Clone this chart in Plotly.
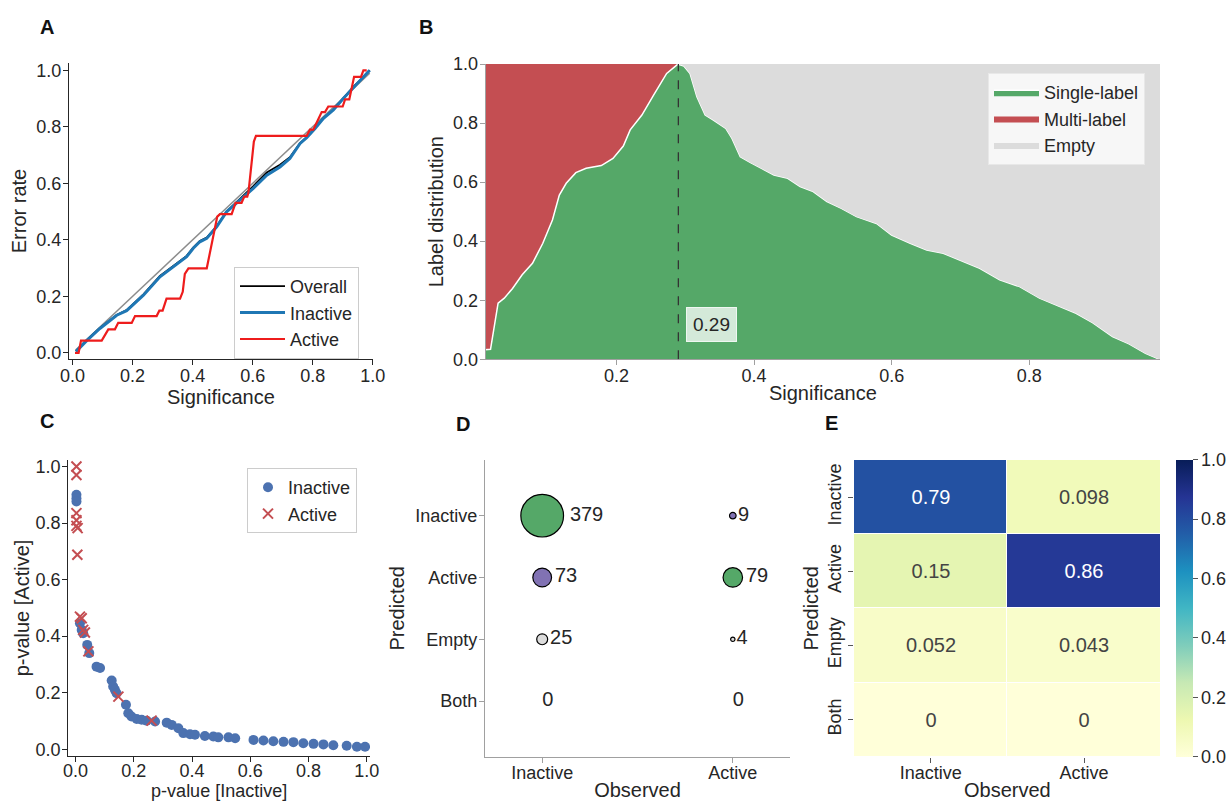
import plotly.graph_objects as go

W, H = 1227, 801
FONT = "Liberation Sans, Arial, sans-serif"
TXT = "#262626"

# ---------------- Panel A data ----------------
a_diag_x = [0.01, 0.99]
a_diag_y = [0.01, 0.99]
a_inactive_x = [0.011, 0.047, 0.091, 0.147, 0.18, 0.236, 0.291, 0.336, 0.38, 0.402, 0.424, 0.447,
                0.48, 0.513, 0.558, 0.602, 0.647, 0.691, 0.724, 0.758, 0.78, 0.808, 0.836, 0.869,
                0.902, 0.936, 0.963, 0.98, 0.99]
a_inactive_y = [0.004, 0.043, 0.086, 0.133, 0.149, 0.204, 0.269, 0.305, 0.34, 0.37, 0.393, 0.405,
                0.446, 0.499, 0.54, 0.582, 0.629, 0.658, 0.688, 0.741, 0.762, 0.794, 0.83, 0.86,
                0.9, 0.94, 0.968, 0.99, 1.0]
a_overall_y = [0.006, 0.045, 0.088, 0.134, 0.151, 0.207, 0.272, 0.309, 0.343, 0.372, 0.396, 0.408,
               0.448, 0.5, 0.544, 0.59, 0.638, 0.666, 0.692, 0.742, 0.763, 0.796, 0.832, 0.861,
               0.902, 0.942, 0.97, 0.99, 1.0]
a_active_x = [0.008, 0.02, 0.028, 0.097, 0.119, 0.141, 0.152, 0.197, 0.208, 0.28, 0.289, 0.3,
              0.313, 0.358, 0.367, 0.374, 0.386, 0.447, 0.482, 0.491, 0.53, 0.543, 0.563, 0.572,
              0.582, 0.586, 0.604, 0.611, 0.78, 0.791, 0.802, 0.83, 0.841, 0.852, 0.9, 0.908,
              0.922, 0.938, 0.961, 0.969, 0.98]
a_active_y = [0.0, 0.0, 0.043, 0.043, 0.083, 0.083, 0.106, 0.106, 0.13, 0.13, 0.149, 0.149,
              0.192, 0.192, 0.216, 0.279, 0.299, 0.299, 0.482, 0.491, 0.491, 0.531, 0.531, 0.553,
              0.553, 0.567, 0.748, 0.768, 0.768, 0.79, 0.79, 0.852, 0.852, 0.872, 0.872, 0.897,
              0.897, 0.977, 0.977, 1.0, 1.0]

# ---------------- Panel B data ----------------
b_sig = [0.008, 0.017, 0.028, 0.037, 0.049, 0.063, 0.078, 0.093, 0.107, 0.117, 0.127, 0.141,
         0.156, 0.178, 0.195, 0.21, 0.22, 0.237, 0.254, 0.273, 0.288, 0.29, 0.298, 0.307, 0.317,
         0.329, 0.341, 0.359, 0.368, 0.38, 0.395, 0.41, 0.429, 0.449, 0.467, 0.486, 0.506,
         0.527, 0.549, 0.578, 0.6, 0.627, 0.651, 0.675, 0.699, 0.728, 0.757, 0.786, 0.815,
         0.844, 0.868, 0.892, 0.921, 0.945, 0.969, 0.986, 0.99]
b_single = [0.032, 0.034, 0.19, 0.207, 0.24, 0.286, 0.325, 0.393, 0.472, 0.556, 0.596, 0.632,
            0.647, 0.656, 0.68, 0.722, 0.777, 0.827, 0.895, 0.968, 0.997, 0.999, 0.993, 0.968,
            0.889, 0.827, 0.81, 0.782, 0.748, 0.686, 0.666, 0.647, 0.624, 0.613, 0.585, 0.568,
            0.534, 0.511, 0.483, 0.46, 0.421, 0.393, 0.37, 0.359, 0.336, 0.308, 0.269, 0.246,
            0.207, 0.178, 0.156, 0.124, 0.077, 0.052, 0.02, 0.003, 0.0]
b_threshold = 0.29
b_multi = [1 - s if x <= b_threshold else 0.0 for x, s in zip(b_sig, b_single)]
b_empty = [1 - s - m for s, m in zip(b_single, b_multi)]

# ---------------- Panel C data ----------------
c_act_x = [0.003, 0.003, 0.003, 0.003, 0.003, 0.007, 0.006, 0.015, 0.021, 0.026, 0.032, 0.044, 0.147, 0.261]
c_act_y = [1.0, 0.97, 0.835, 0.81, 0.79, 0.782, 0.688, 0.469, 0.463, 0.422, 0.413, 0.346, 0.186, 0.101]
c_inact_x = [0.003, 0.003, 0.003, 0.015, 0.021, 0.026, 0.04, 0.047, 0.072, 0.084, 0.124, 0.129,
             0.135, 0.141, 0.173, 0.181, 0.192, 0.21, 0.227, 0.244, 0.273, 0.313, 0.33, 0.353,
             0.37, 0.393, 0.41, 0.444, 0.473, 0.49, 0.525, 0.548, 0.611, 0.645, 0.679, 0.714,
             0.748, 0.782, 0.817, 0.851, 0.885, 0.931, 0.966, 0.994]
c_inact_y = [0.9, 0.888, 0.876, 0.446, 0.422, 0.41, 0.369, 0.34, 0.292, 0.287, 0.243, 0.222,
             0.21, 0.198, 0.157, 0.127, 0.116, 0.107, 0.104, 0.101, 0.098, 0.094, 0.086, 0.074,
             0.057, 0.053, 0.051, 0.047, 0.045, 0.042, 0.042, 0.039, 0.033, 0.031, 0.028, 0.026,
             0.025, 0.021, 0.019, 0.017, 0.014, 0.012, 0.009, 0.009]

# ---------------- Panel D data ----------------
d_observed = ["Inactive", "Inactive", "Inactive", "Inactive", "Active", "Active", "Active", "Active"]
d_predicted = ["Inactive", "Active", "Empty", "Both", "Inactive", "Active", "Empty", "Both"]
d_counts = [379, 73, 25, 0, 9, 79, 4, 0]
d_colors = ["#55a868", "#8172b3", "#dcdcdc", "#c44e52", "#8172b3", "#55a868", "#dcdcdc", "#c44e52"]

# ---------------- Panel E data ----------------
e_observed = ["Inactive", "Active"]
e_predicted = ["Inactive", "Active", "Empty", "Both"]
e_values = [[0.79, 0.098], [0.15, 0.86], [0.052, 0.043], [0, 0]]

ylgnbu = [[0.0, "#ffffd9"], [0.125, "#edf8b1"], [0.25, "#c7e9b4"], [0.375, "#7fcdbb"],
          [0.5, "#41b6c4"], [0.625, "#1d91c0"], [0.75, "#225ea8"], [0.875, "#253494"],
          [1.0, "#081d58"]]


def px(a):
    return a / W


def py(b):
    return 1 - b / H


def hx(a, b):
    return [px(a), px(b)]


def vy(top, bottom):
    return [py(bottom), py(top)]


fig = go.Figure()

# Panel A
fig.add_trace(go.Scatter(x=a_diag_x, y=a_diag_y, mode="lines", line=dict(color="#8c8c8c", width=1.5),
                         showlegend=False, xaxis="x", yaxis="y", hoverinfo="skip"))
fig.add_trace(go.Scatter(x=a_inactive_x, y=a_overall_y, mode="lines", name="Overall",
                         line=dict(color="black", width=1.8), xaxis="x", yaxis="y", legend="legend"))
fig.add_trace(go.Scatter(x=a_inactive_x, y=a_inactive_y, mode="lines", name="Inactive",
                         line=dict(color="#1f77b4", width=3), xaxis="x", yaxis="y", legend="legend"))
fig.add_trace(go.Scatter(x=a_active_x, y=a_active_y, mode="lines", name="Active",
                         line=dict(color="#ee1c1c", width=2.2), xaxis="x", yaxis="y", legend="legend"))

# Panel B
fig.add_trace(go.Scatter(x=b_sig, y=b_single, name="Single-label", stackgroup="b", mode="lines",
                         line=dict(color="white", width=1.5), fillcolor="#55a868",
                         xaxis="x2", yaxis="y2", legend="legend2"))
fig.add_trace(go.Scatter(x=b_sig, y=b_multi, name="Multi-label", stackgroup="b", mode="lines",
                         line=dict(color="#c44e52", width=0), fillcolor="#c44e52",
                         xaxis="x2", yaxis="y2", legend="legend2"))
fig.add_trace(go.Scatter(x=b_sig, y=b_empty, name="Empty", stackgroup="b", mode="lines",
                         line=dict(color="#dcdcdc", width=0), fillcolor="#dcdcdc",
                         xaxis="x2", yaxis="y2", legend="legend2"))

# Panel C
fig.add_trace(go.Scatter(x=c_inact_x, y=c_inact_y, mode="markers", name="Inactive",
                         marker=dict(color="#4c72b0", size=10, line=dict(width=0)),
                         xaxis="x3", yaxis="y3", legend="legend3"))
fig.add_trace(go.Scatter(x=c_act_x, y=c_act_y, mode="markers", name="Active",
                         marker=dict(color="#c44e52", size=10, symbol="x-thin",
                                     line=dict(width=2, color="#c44e52")),
                         xaxis="x3", yaxis="y3", legend="legend3"))

# Panel D
d_max_px = 42.7
fig.add_trace(go.Scatter(x=d_observed, y=d_predicted, mode="markers+text",
                         text=[str(c) for c in d_counts], textposition="middle right",
                         textfont=dict(size=20, color=TXT, family=FONT),
                         marker=dict(size=d_counts, sizemode="area", opacity=1,
                                     sizeref=2 * max(d_counts) / d_max_px ** 2,
                                     color=d_colors, line=dict(color="black", width=1.2)),
                         showlegend=False, cliponaxis=False, xaxis="x4", yaxis="y4"))

# Panel E
fig.add_trace(go.Heatmap(z=e_values, x=e_observed, y=e_predicted, colorscale=ylgnbu, zmin=0, zmax=1,
                         text=[[str(v) for v in row] for row in e_values], texttemplate="%{text}",
                         textfont=dict(size=20, family=FONT), xgap=1, ygap=1,
                         colorbar=dict(thickness=17, len=296.7 / H, lenmode="fraction",
                                       x=px(1176), xanchor="left", y=py(756.7), yanchor="bottom",
                                       xpad=0, ypad=0, outlinewidth=0, ticks="outside", ticklen=5,
                                       tickcolor="#555555", tickvals=[0, 0.2, 0.4, 0.6, 0.8, 1.0],
                                       tickformat=".1f", tickfont=dict(size=18, color=TXT)),
                         xaxis="x5", yaxis="y5"))

base = dict(showgrid=False, zeroline=False, showline=True, ticks="outside", ticklen=5,
            tickwidth=1.2, linewidth=1.2, tickfont=dict(size=18, color=TXT), automargin=False,
            title_font=dict(size=20, color=TXT))
dark = dict(base, linecolor="#262626", tickcolor="#262626")
grey = dict(base, linecolor="#a0a0a0", tickcolor="#a0a0a0")
ticks01 = [0, 0.2, 0.4, 0.6, 0.8, 1.0]
XS = dict(ticklabelstandoff=-5)
YS = dict(ticklabelstandoff=-2)

fig.update_layout(
    width=W, height=H, margin=dict(l=0, r=0, t=0, b=0, autoexpand=False),
    paper_bgcolor="white", plot_bgcolor="white",
    font=dict(family=FONT, color=TXT, size=18),
    xaxis=dict(dark, **XS, domain=hx(69, 372.7), range=[-0.012, 1.0], tickvals=ticks01, tickformat=".1f",
               title=dict(text="Significance", standoff=0), anchor="y"),
    yaxis=dict(dark, **YS, domain=vy(62.7, 359.3), range=[-0.023, 1.027], tickvals=ticks01, tickformat=".1f",
               title=dict(text="Error rate", standoff=4), anchor="x"),
    xaxis2=dict(grey, **XS, domain=hx(485.7, 1160), range=[0.01, 0.99], tickvals=[0.2, 0.4, 0.6, 0.8],
                tickformat=".1f", title=dict(text="Significance", standoff=0), anchor="y2"),
    yaxis2=dict(grey, **YS, domain=vy(64, 359.3), range=[0, 1], tickvals=ticks01, tickformat=".1f",
                title=dict(text="Label distribution", standoff=3), anchor="x2"),
    xaxis3=dict(dark, ticklabelstandoff=-7, domain=hx(68.3, 370), range=[-0.025, 1.011], tickvals=ticks01,
                tickformat=".1f", title=dict(text="p-value [Inactive]", standoff=0, font=dict(size=18)),
                anchor="y3"),
    yaxis3=dict(dark, **YS, domain=vy(460, 756), range=[-0.024, 1.023], tickvals=ticks01, tickformat=".1f",
                title=dict(text="p-value [Active]", standoff=0), anchor="x3"),
    xaxis4=dict(grey, **XS, domain=hx(485, 790), type="category", categoryarray=["Inactive", "Active"],
                range=[-0.3, 1.3], title=dict(text="Observed", standoff=0), anchor="y4"),
    yaxis4=dict(grey, **YS, domain=vy(460, 756.7), type="category",
                categoryarray=["Inactive", "Active", "Empty", "Both"], range=[3.9, -0.9],
                title=dict(text="Predicted", standoff=5), anchor="x4"),
    xaxis5=dict(base, **XS, showline=False, tickcolor="#555555", domain=hx(854, 1160.7), type="category",
                title=dict(text="Observed", standoff=0), anchor="y5"),
    yaxis5=dict(base, showline=False, tickcolor="#555555", domain=vy(460, 756.7), type="category",
                autorange="reversed", tickangle=-90, title=dict(text="Predicted", standoff=0), anchor="x5"),
    legend=dict(x=px(234), y=py(267), xanchor="left", yanchor="top", bgcolor="white", itemwidth=45,
                bordercolor="#cccccc", borderwidth=1, font=dict(size=18, color=TXT), traceorder="normal"),
    legend2=dict(x=px(988), y=py(73), xanchor="left", yanchor="top", bgcolor="#f7f7f7", itemwidth=45,
                 bordercolor="#e8e8e8", borderwidth=1, font=dict(size=18, color=TXT), traceorder="normal"),
    legend3=dict(x=px(247), y=py(468), xanchor="left", yanchor="top", bgcolor="white",
                 bordercolor="#cccccc", borderwidth=1, font=dict(size=18, color=TXT), traceorder="normal"),
    shapes=[dict(type="line", xref="x2", yref="y2", x0=b_threshold, x1=b_threshold, y0=0, y1=1,
                 line=dict(color="#333333", width=1.3, dash="dash"))],
)

annotations = [
    dict(x=b_threshold + 0.048, y=0.118, xref="x2", yref="y2", text=f"{b_threshold:.2f}", showarrow=False,
         bgcolor="rgba(255,255,255,0.75)", bordercolor="rgba(255,255,255,0.85)", borderwidth=1,
         borderpad=6, font=dict(size=19, color=TXT)),
]
for lab, lx, ly in [("A", 38, 27), ("B", 417, 27), ("C", 38, 421), ("D", 454, 424), ("E", 823, 423)]:
    annotations.append(dict(x=px(lx), y=py(ly), xref="paper", yref="paper", text=f"<b>{lab}</b>",
                            showarrow=False, xanchor="left", yanchor="middle",
                            font=dict(size=20, color="#111111", family=FONT)))
fig.update_layout(annotations=annotations)

fig.write_html("out.html", config={"displayModeBar": False},
               post_script="document.body.style.margin='0';document.body.style.overflow='hidden';")
